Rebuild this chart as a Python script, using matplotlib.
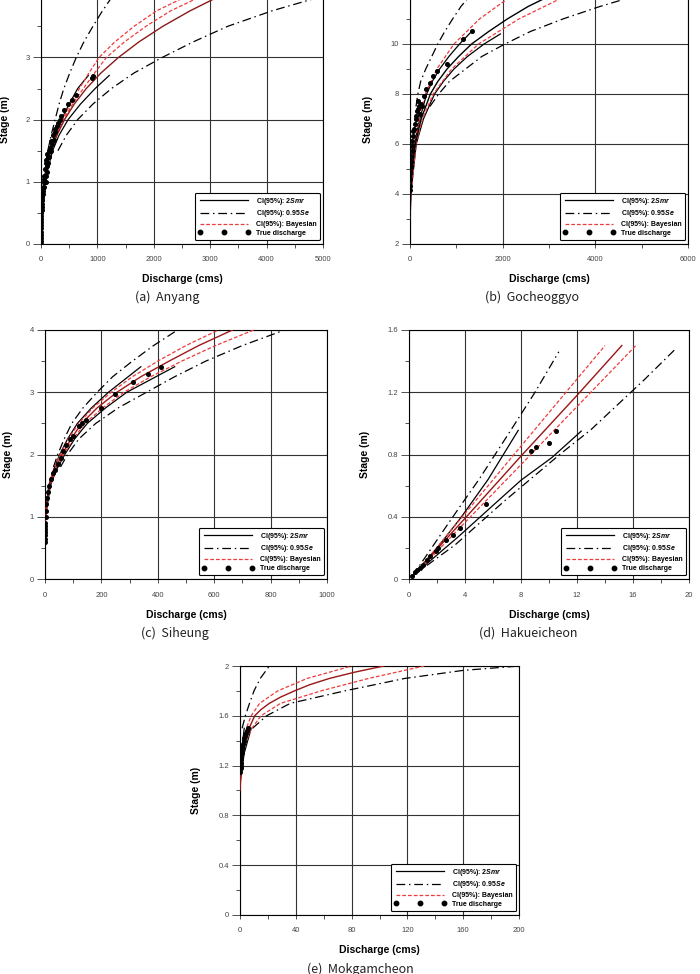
import matplotlib
matplotlib.use("Agg")
import matplotlib.pyplot as plt
from matplotlib.lines import Line2D
from matplotlib.ticker import FuncFormatter, MultipleLocator

plt.rcParams["font.family"] = ["Liberation Sans", "DejaVu Sans"]
plt.rcParams["mathtext.fontset"] = "custom"
plt.rcParams["mathtext.it"] = "Liberation Sans:italic:bold"
plt.rcParams["mathtext.rm"] = "Liberation Sans:bold"

# curves are lists of (discharge, stage)

# (a) Anyang
a_center = [(12, 0.6), (54, 1.0), (105, 1.25), (179, 1.5), (281, 1.75), (417, 2.0), (589, 2.25),
            (803, 2.5), (1063, 2.75), (1374, 3.0), (1737, 3.25), (2159, 3.5), (2645, 3.75), (3198, 4.0)]
a_upper_smr = [(10, 0.6), (45, 1.0), (150, 1.5), (240, 1.75), (360, 2.0), (500, 2.25), (650, 2.5), (840, 2.71)]
a_lower_smr = [(14, 0.6), (65, 1.0), (205, 1.5), (320, 1.75), (480, 2.0), (700, 2.25), (960, 2.5), (1210, 2.71)]
a_upper_se = [(120, 1.5), (180, 1.75), (250, 2.0), (320, 2.25), (405, 2.5), (510, 2.75), (625, 3.0),
              (760, 3.25), (920, 3.5), (1090, 3.75), (1280, 4.0)]
a_lower_se = [(300, 1.5), (450, 1.75), (650, 2.0), (920, 2.25), (1250, 2.5), (1650, 2.75), (2150, 3.0),
              (2700, 3.25), (3310, 3.5), (4100, 3.75), (5050, 4.0)]
a_upper_bay = [(40, 1.0), (165, 1.5), (380, 2.0), (520, 2.25), (680, 2.5), (850, 2.75), (1030, 3.0),
               (1310, 3.25), (1650, 3.5), (2050, 3.75), (2620, 4.0)]
a_lower_bay = [(45, 1.0), (172, 1.5), (400, 2.0), (560, 2.25), (750, 2.5), (950, 2.75), (1160, 3.0),
               (1480, 3.25), (1860, 3.5), (2300, 3.75), (2880, 4.0)]
a_obs = [(3, 0.0), (4, 0.05), (3, 0.1), (4, 0.15), (3, 0.2), (4, 0.25), (5, 0.3), (5, 0.35), (6, 0.4),
         (7, 0.45), (8, 0.5), (10, 0.55), (12, 0.6), (15, 0.65), (20, 0.7), (25, 0.7), (18, 0.75),
         (30, 0.8), (22, 0.85), (40, 0.85), (35, 0.9), (50, 0.92), (45, 1.0), (70, 1.0), (90, 1.0),
         (60, 1.05), (55, 1.1), (80, 1.1), (100, 1.15), (75, 1.2), (110, 1.25), (95, 1.3), (130, 1.3),
         (85, 1.35), (120, 1.4), (150, 1.4), (110, 1.45), (140, 1.5), (170, 1.5), (160, 1.55),
         (200, 1.6), (180, 1.65), (230, 1.68), (210, 1.75), (250, 1.8), (240, 1.85), (280, 1.9),
         (300, 1.95), (330, 2.0), (350, 2.05), (400, 2.15), (480, 2.25), (550, 2.32), (620, 2.4),
         (900, 2.67), (920, 2.7)]

# (b) Gocheoggyo
b_center = [(0, 2.6), (5, 3.5), (15, 4.0), (45, 5.0), (115, 6.0), (240, 7.0), (440, 8.0), (600, 8.5),
            (800, 9.0), (1050, 9.5), (1330, 10.0), (1700, 10.5), (2100, 11.0), (2550, 11.5), (3100, 12.0)]
b_upper_smr = [(0, 2.6), (12, 4.0), (95, 6.0), (210, 7.0), (360, 8.0), (480, 8.5), (640, 9.0),
               (840, 9.5), (1070, 10.0), (1330, 10.5)]
b_lower_smr = [(0, 2.6), (18, 4.0), (135, 6.0), (290, 7.0), (530, 8.0), (720, 8.5), (950, 9.0),
               (1240, 9.5), (1600, 10.0), (1950, 10.4)]
b_upper_se = [(130, 7.5), (170, 8.0), (230, 8.5), (340, 9.0), (470, 9.5), (600, 10.0), (750, 10.5),
              (920, 11.0), (1100, 11.5), (1330, 12.0)]
b_lower_se = [(430, 7.5), (620, 8.0), (850, 8.5), (1200, 9.0), (1550, 9.5), (2050, 10.0), (2600, 10.5),
              (3300, 11.0), (4100, 11.5), (5000, 12.0)]
b_upper_bay = [(0, 3.0), (8, 4.0), (90, 6.0), (200, 7.0), (330, 8.0), (580, 9.0), (950, 10.0),
               (1500, 11.0), (2250, 12.0)]
b_lower_bay = [(0, 3.0), (20, 4.0), (130, 6.0), (270, 7.0), (500, 8.0), (900, 9.0), (1480, 10.0),
               (2350, 11.0), (3450, 12.0)]
b_obs = [(0, 4.15), (0, 4.6), (5, 4.3), (10, 4.9), (15, 5.1), (20, 5.3), (25, 5.5), (35, 5.7),
         (40, 5.9), (50, 6.1), (60, 6.3), (70, 6.5), (80, 6.6), (100, 6.8), (120, 7.0), (140, 7.1),
         (150, 7.3), (170, 7.4), (200, 7.5), (230, 7.6), (180, 7.7), (250, 7.5), (220, 7.2),
         (300, 7.9), (350, 8.2), (430, 8.45), (500, 8.7), (580, 8.9), (790, 9.2), (1150, 10.2),
         (1330, 10.5)]

# (c) Siheung
c_center = [(0, 0.9), (2, 1.0), (6, 1.2), (16, 1.5), (35, 1.75), (60, 2.0), (92, 2.25), (130, 2.5),
            (185, 2.75), (255, 3.0), (340, 3.25), (440, 3.5), (545, 3.75), (665, 4.0)]
c_upper_smr = [(0, 0.9), (1, 1.0), (13, 1.5), (30, 1.75), (52, 2.0), (80, 2.25), (115, 2.5),
               (165, 2.75), (225, 3.0), (340, 3.41)]
c_lower_smr = [(0, 0.9), (2, 1.0), (19, 1.5), (40, 1.75), (70, 2.0), (105, 2.25), (150, 2.5),
               (215, 2.75), (290, 3.0), (460, 3.41)]
c_upper_se = [(30, 1.8), (45, 2.0), (68, 2.25), (95, 2.5), (135, 2.75), (185, 3.0), (240, 3.25),
              (310, 3.5), (385, 3.75), (470, 4.0)]
c_lower_se = [(55, 1.8), (80, 2.0), (120, 2.25), (180, 2.5), (260, 2.75), (360, 3.0), (460, 3.25),
              (570, 3.5), (700, 3.75), (850, 4.0)]
c_upper_bay = [(0, 1.0), (14, 1.5), (30, 1.75), (54, 2.0), (82, 2.25), (120, 2.5), (170, 2.75),
               (235, 3.0), (310, 3.25), (400, 3.5), (500, 3.75), (615, 4.0)]
c_lower_bay = [(1, 1.0), (18, 1.5), (38, 1.75), (66, 2.0), (100, 2.25), (142, 2.5), (205, 2.75),
               (280, 3.0), (375, 3.25), (485, 3.5), (605, 3.75), (740, 4.0)]
c_obs = [(0, 0.6), (0, 0.65), (0, 0.7), (0, 0.75), (0, 0.8), (0, 0.85), (1, 0.9), (2, 1.0), (3, 1.1),
         (5, 1.2), (8, 1.3), (10, 1.4), (15, 1.5), (20, 1.6), (30, 1.7), (35, 1.75), (45, 1.85),
         (55, 1.95), (65, 2.05), (75, 2.15), (90, 2.25), (100, 2.3), (120, 2.45), (130, 2.5),
         (145, 2.55), (200, 2.75), (247, 2.97), (312, 3.17), (365, 3.29), (412, 3.41)]

# (d) Hakueicheon
d_center = [(0.25, 0.02), (4, 0.39), (8, 0.79), (12, 1.18), (15.2, 1.5)]
d_upper_smr = [(0.25, 0.02), (2.1, 0.21), (3.75, 0.40), (5.65, 0.64), (7.8, 0.955)]
d_lower_smr = [(0.25, 0.02), (3.5, 0.27), (5.65, 0.445), (8, 0.635), (10.2, 0.78), (12.3, 0.95)]
d_upper_se = [(0.25, 0.02), (2.6, 0.33), (3.75, 0.48), (5, 0.64), (7.3, 0.96), (9, 1.2), (10.7, 1.46)]
d_lower_se = [(0.25, 0.02), (3.3, 0.22), (6.8, 0.5), (10.9, 0.81), (13, 0.96), (16.8, 1.28), (19, 1.475)]
d_upper_bay = [(0.3, 0.02), (7.5, 0.8), (14.0, 1.5)]
d_lower_bay = [(0.3, 0.02), (8.7, 0.8), (16.2, 1.5)]
d_obs = [(0.24, 0.02), (0.4, 0.043), (0.6, 0.06), (0.76, 0.07), (1.0, 0.09), (1.29, 0.12),
         (1.5, 0.145), (1.9, 0.18), (2.1, 0.2), (2.67, 0.25), (3.14, 0.284), (3.62, 0.327),
         (5.48, 0.48), (8.74, 0.82), (9.05, 0.85), (9.98, 0.877), (10.52, 0.948)]

# (e) Mokgamcheon
e_center = [(0, 1.0), (1, 1.2), (3.5, 1.4), (6.5, 1.5), (10.5, 1.6), (15, 1.65), (21, 1.7), (29, 1.75),
            (39, 1.8), (50, 1.85), (64, 1.9), (82, 1.95), (103, 2.0)]
e_upper_smr = [(0, 1.06), (1, 1.3), (3, 1.5)]
e_lower_smr = [(0, 1.06), (3, 1.3), (8, 1.5)]
e_upper_se = [(1.5, 1.5), (3.8, 1.6), (6.8, 1.7), (10, 1.8), (14.5, 1.9), (21, 2.0)]
e_lower_se = [(9, 1.5), (19, 1.6), (36, 1.7), (75, 1.8), (118, 1.9), (160, 1.965), (200, 2.0)]
e_upper_bay = [(0, 1.1), (1.5, 1.3), (4.5, 1.5), (8, 1.6), (14, 1.7), (27, 1.8), (48, 1.9), (80, 2.0)]
e_lower_bay = [(0, 1.05), (2, 1.3), (4.5, 1.4), (8.5, 1.5), (15, 1.6), (29, 1.7), (58, 1.8),
               (92, 1.9), (132, 2.0)]
e_obs = [(0.3, 1.15), (0.5, 1.18), (0.6, 1.2), (0.8, 1.22), (0.9, 1.25), (1.0, 1.27), (1.2, 1.3),
         (1.5, 1.33), (1.7, 1.35), (2.0, 1.37), (2.5, 1.4), (3.0, 1.42), (3.5, 1.44), (4, 1.46),
         (5, 1.48), (6, 1.5)]

legend_labels = ["CI(95%): 2$Smr$", "CI(95%): 0.95$Se$", "CI(95%): Bayesian", "True discharge"]

SMR = dict(color="black", lw=0.9, ls="-")
SE = dict(color="black", lw=0.9, ls=(0, (7, 3, 1.2, 3)))
BAY = dict(color="#ee3b3b", lw=0.9, ls=(0, (3, 1.6)))

# rect is (left, bottom, width, height) in figure fraction; the two top panels run past the top edge
# ylab_max is the highest y tick that still gets a label (the top ones are cut off by the page)
panels = [
    dict(rect=(0.0586, 0.7495, 0.4028, 0.2554), xlim=(0, 5000), ylim=(0, 4), xmaj=1000, ymaj=1,
         ylab_max=3, center=a_center, center_color="#8b1a1a", usmr=a_upper_smr, lsmr=a_lower_smr,
         use=a_upper_se, lse=a_lower_se, ubay=a_upper_bay, lbay=a_lower_bay, obs=a_obs,
         ylab_x=-0.11, xlab_y=-0.12, caption="(a)  Anyang", cap_xy=(167, 297)),
    dict(rect=(0.5857, 0.7495, 0.3972, 0.2567), xlim=(0, 6000), ylim=(2, 12), xmaj=2000, ymaj=2,
         ylab_max=10, center=b_center, center_color="black", usmr=b_upper_smr, lsmr=b_lower_smr,
         use=b_upper_se, lse=b_lower_se, ubay=b_upper_bay, lbay=b_lower_bay, obs=b_obs,
         ylab_x=-0.133, xlab_y=-0.12, caption="(b)  Gocheoggyo", cap_xy=(532, 297)),
    dict(rect=(0.0643, 0.4055, 0.4028, 0.2557), xlim=(0, 1000), ylim=(0, 4), xmaj=200, ymaj=1,
         ylab_max=4, center=c_center, center_color="#a01818", usmr=c_upper_smr, lsmr=c_lower_smr,
         use=c_upper_se, lse=c_lower_se, ubay=c_upper_bay, lbay=c_lower_bay, obs=c_obs,
         ylab_x=-0.113, xlab_y=-0.124, caption="(c)  Siheung", cap_xy=(175, 633)),
    dict(rect=(0.5843, 0.4055, 0.4, 0.2557), xlim=(0, 20), ylim=(0, 1.6), xmaj=4, ymaj=0.4,
         ylab_max=1.6, center=d_center, center_color="#9a1515", usmr=d_upper_smr, lsmr=d_lower_smr,
         use=d_upper_se, lse=d_lower_se, ubay=d_upper_bay, lbay=d_lower_bay, obs=d_obs,
         ylab_x=-0.139, xlab_y=-0.124, caption="(d)  Hakueicheon", cap_xy=(528, 633)),
    dict(rect=(0.3429, 0.0606, 0.3985, 0.2556), xlim=(0, 200), ylim=(0, 2), xmaj=40, ymaj=0.4,
         ylab_max=2, center=e_center, center_color="#9a1515", usmr=e_upper_smr, lsmr=e_lower_smr,
         use=e_upper_se, lse=e_lower_se, ubay=e_upper_bay, lbay=e_lower_bay, obs=e_obs,
         ylab_x=-0.14, xlab_y=-0.12, caption="(e)  Mokgamcheon", cap_xy=(360, 969)),
]


def split(pts):
    return [p[0] for p in pts], [p[1] for p in pts]


def draw_panel(fig, p):
    ax = fig.add_axes(p["rect"])
    ax.set_xlim(*p["xlim"])
    ax.set_ylim(*p["ylim"])
    ax.set_axisbelow(True)

    # confidence bands
    for key in ("use", "lse"):
        ax.plot(*split(p[key]), **SE, zorder=3)
    for key in ("usmr", "lsmr"):
        ax.plot(*split(p[key]), **SMR, zorder=3)
    for key in ("ubay", "lbay"):
        ax.plot(*split(p[key]), **BAY, zorder=4)
    ax.plot(*split(p["center"]), color=p["center_color"], lw=1.0, zorder=5)

    q, h = split(p["obs"])
    ax.plot(q, h, ls="none", marker="o", ms=2.6, color="black", zorder=6)

    # axes cosmetics
    ax.xaxis.set_major_locator(MultipleLocator(p["xmaj"]))
    ax.xaxis.set_minor_locator(MultipleLocator(p["xmaj"] / 2))
    ax.yaxis.set_major_locator(MultipleLocator(p["ymaj"]))
    ax.yaxis.set_minor_locator(MultipleLocator(p["ymaj"] / 2))
    top = p["ylab_max"]
    ax.xaxis.set_major_formatter(FuncFormatter(lambda v, pos: f"{v:g}"))
    ax.yaxis.set_major_formatter(FuncFormatter(lambda v, pos: f"{v:g}" if v <= top + 1e-9 else ""))
    ax.grid(which="major", color="#333333", lw=0.8)
    ax.tick_params(axis="both", which="both", direction="out", width=0.6,
                   labelsize=5.5, labelcolor="#444444", color="#333333")
    ax.tick_params(axis="y", which="major", length=6, pad=2)
    ax.tick_params(axis="y", which="minor", length=3)
    ax.tick_params(axis="x", which="both", length=3, pad=6)
    for s in ax.spines.values():
        s.set_linewidth(0.8)

    ax.set_xlabel("Discharge (cms)", fontsize=7.5, fontweight="bold")
    ax.set_ylabel("Stage (m)", fontsize=7.5, fontweight="bold")
    ax.xaxis.set_label_coords(0.5, p["xlab_y"])
    ax.yaxis.set_label_coords(p["ylab_x"], 0.5)

    handles = [Line2D([], [], **SMR), Line2D([], [], **SE), Line2D([], [], **BAY),
               Line2D([], [], ls="none", marker="o", ms=3.2, color="black")]
    leg = ax.legend(handles, legend_labels, loc="lower right", bbox_to_anchor=(0.989, 0.016),
                    borderaxespad=0, prop={"weight": "bold", "size": 5}, handlelength=7.5,
                    handletextpad=0.9, labelspacing=0.25, borderpad=0.45, numpoints=3,
                    fancybox=True, edgecolor="black", framealpha=1)
    leg.get_frame().set_linewidth(0.8)
    leg.set_zorder(10)

    cx, cy = p["cap_xy"]
    fig.text(cx / 700, 1 - cy / 974, p["caption"], ha="center", va="center", fontsize=9,
             family=["Noto Sans CJK KR", "DejaVu Sans"], color="#222222")
    return ax


fig = plt.figure(figsize=(7, 9.74), dpi=100)
for p in panels:
    draw_panel(fig, p)

fig.savefig("out.png", dpi=100)
